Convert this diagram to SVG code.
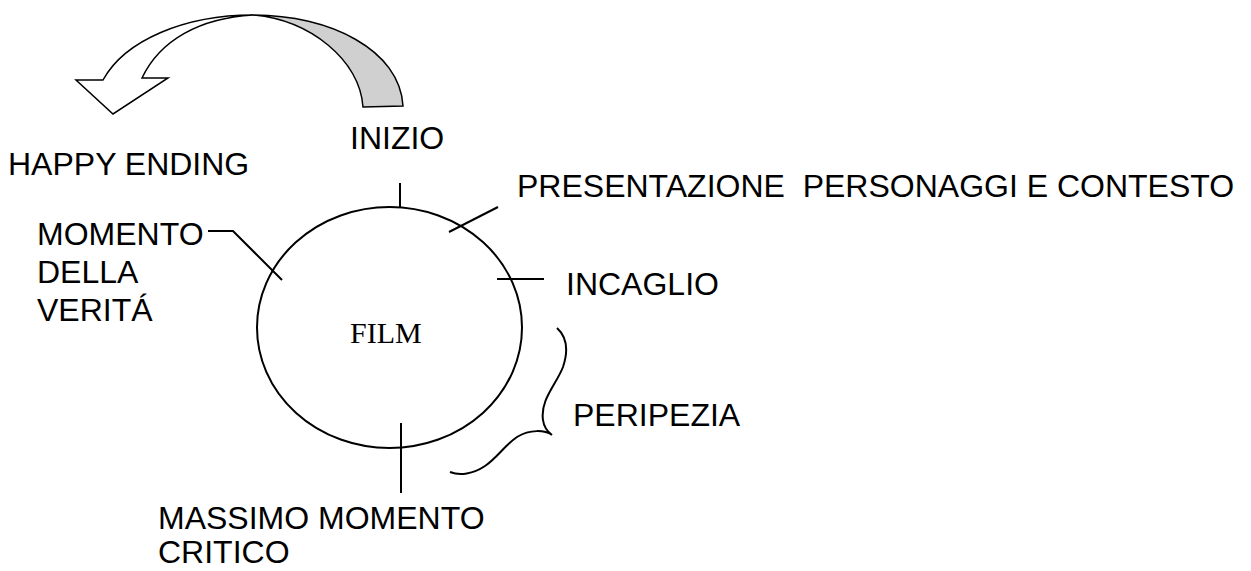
<svg xmlns="http://www.w3.org/2000/svg" width="1251" height="571" viewBox="0 0 1251 571">
<style>
.t{font-family:"Liberation Sans",Arial,sans-serif;font-size:32px;fill:#000}
.s{font-family:"Liberation Serif","Times New Roman",serif;font-size:30px;fill:#000}
.ln{stroke:#000;stroke-width:2;fill:none}
</style>
<rect width="1251" height="571" fill="#fff"/>
<g id="arrow">
<path d="M253 15 C330 15 400 50 403 106 L363 107 C360 60 310 20 253 15 Z" fill="#d0d0d0" stroke="#000" stroke-width="1.5"/>
<path d="M253 15 C185 15 125 40 103 80 L76 80 L113 114 L168 78 L142 78 C160 40 200 18 253 15 Z" fill="#fff" stroke="#000" stroke-width="1.5"/>
</g>
<g id="film">
<ellipse cx="389.5" cy="327.5" rx="132.5" ry="120.5" class="ln"/>
<text x="350" y="343" class="s">FILM</text>
</g>
<g id="connectors">
<line x1="400" y1="183" x2="400" y2="208" class="ln"/>
<line x1="449" y1="232" x2="498" y2="207" class="ln"/>
<line x1="497" y1="279" x2="544" y2="279" class="ln"/>
<polyline points="208,231 233,231 282,280" class="ln"/>
<line x1="401" y1="423" x2="401" y2="493" class="ln"/>
<path d="M557 328 C568 338 568 352 563 367 C556 385 540 400 543 420 C544 428 548 432 552 435 C545 430 530 429 517 437 C505 445 497 458 485 466 C473 474 460 476 450 472" class="ln"/>
</g>
<g id="happy-ending"><text x="8" y="175" class="t">HAPPY ENDING</text></g>
<g id="inizio"><text x="350" y="149" class="t">INIZIO</text></g>
<g id="presentazione"><text x="517" y="197" class="t" xml:space="preserve">PRESENTAZIONE  PERSONAGGI E CONTESTO</text></g>
<g id="incaglio"><text x="566" y="295" class="t">INCAGLIO</text></g>
<g id="momento"><text x="37" y="245" class="t">MOMENTO</text><text x="37" y="283" class="t">DELLA</text><text x="37" y="321" class="t">VERITÁ</text></g>
<g id="peripezia"><text x="573" y="426" class="t">PERIPEZIA</text></g>
<g id="massimo"><text x="158" y="529" class="t">MASSIMO MOMENTO</text><text x="158" y="563" class="t">CRITICO</text></g>
</svg>
